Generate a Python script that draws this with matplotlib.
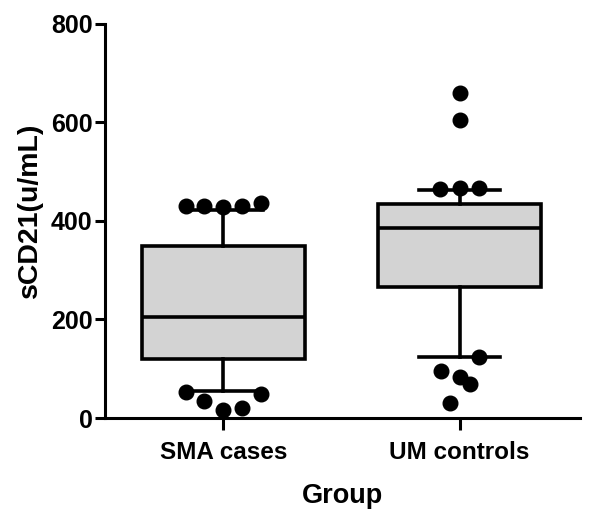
import matplotlib
matplotlib.use("Agg")
import matplotlib.pyplot as plt
import numpy as np

# data
groups = ["SMA cases", "UM controls"]
whis_low = [54, 123]
q1 = [119, 265]
medians = [206, 385]
q3 = [350, 435]
whis_high = [422, 463]

# points outside the whiskers (value, small horizontal spread like the original)
sma_out = [431, 431, 428, 431, 436, 53, 35, 16, 21, 48]
sma_spread = [-0.157, -0.08, 0, 0.08, 0.16, -0.157, -0.08, 0, 0.08, 0.16]
um_out = [659, 604, 465, 467, 466, 124, 96, 83, 69, 31]
um_spread = [0, 0, -0.085, 0, 0.08, 0.08, -0.08, 0, 0.042, -0.042]

fam = ["Liberation Sans", "DejaVu Sans"]

fig = plt.figure(figsize=(6.0, 5.18), dpi=100)
ax = fig.add_axes([0.175, 0.193, 0.792, 0.761])

stats = []
for i in range(len(groups)):
    stats.append({"label": groups[i], "whislo": whis_low[i], "q1": q1[i],
                  "med": medians[i], "q3": q3[i], "whishi": whis_high[i]})

lw = 2.6
positions = [1, 2]
ax.bxp(stats, positions=positions, widths=0.69, capwidths=0.34,
       showfliers=False, patch_artist=True,
       boxprops=dict(facecolor="#d3d3d3", edgecolor="black", linewidth=lw),
       medianprops=dict(color="black", linewidth=lw),
       whiskerprops=dict(color="black", linewidth=lw),
       capprops=dict(color="black", linewidth=lw))

for pos, vals, spread in [(1, sma_out, sma_spread), (2, um_out, um_spread)]:
    ax.plot(pos + np.array(spread), vals, "o", color="black", ms=10.5,
            clip_on=False, zorder=5)

ax.set_xlim(0.5, 2.51)
ax.set_ylim(0, 800)
ax.set_yticks([0, 200, 400, 600, 800])
ax.set_xticks(positions)
ax.set_xticklabels(groups, fontsize=17.5, fontweight="bold", family=fam)
for lab in ax.get_yticklabels():
    lab.set_fontsize(18)
    lab.set_fontweight("bold")
    lab.set_family(fam)

for s in ["top", "right"]:
    ax.spines[s].set_visible(False)
for s in ["left", "bottom"]:
    ax.spines[s].set_linewidth(2.2)
ax.tick_params(axis="y", length=7, width=2.2, pad=2)
ax.tick_params(axis="x", length=8.5, width=2.2, pad=8)

ax.set_ylabel("sCD21(u/mL)", fontsize=20.5, fontweight="bold", family=fam)
ax.yaxis.set_label_coords(-0.13, 0.527)
ax.set_xlabel("Group", fontsize=19.5, fontweight="bold", family=fam, labelpad=14)

plt.savefig("out.png", dpi=100)
plt.close()
